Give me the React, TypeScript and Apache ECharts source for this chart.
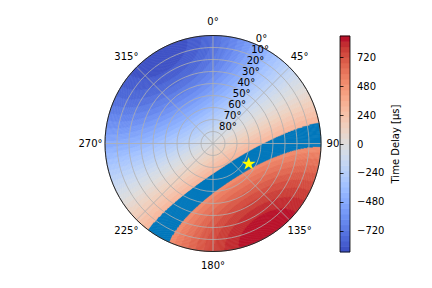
import React, { useEffect, useRef } from "react";
import * as echarts from "echarts";

// ---- data ----
const ANGLE_TICKS = [0, 45, 90, 135, 180, 225, 270, 315];
const ELEVATION_TICKS = [0, 10, 20, 30, 40, 50, 60, 70, 80];
const COLORBAR_TICKS = [-720, -480, -240, 0, 240, 480, 720];
const DELAY_RANGE = [-895, 895]; // µs, colorbar extent
const LEVEL_COUNT = 40;
const BASELINE_AMPLITUDE = 895; // µs, horizon delay amplitude
const BASELINE_AZIMUTH = 148; // deg, direction of max delay
const MATCH_BAND = [321, 500]; // µs, highlighted delay band
const STAR_POSITION = [56, 119]; // [elevation, azimuth]

// ---- style ----
const FONT = "DejaVu Sans";
const AZ_STEP = 0.5;
const EL_STEP = 0.25;
const BAND_COLOR = "#0077bb";
const GRID_COLOR = "#b0b0b0";

const COOLWARM = [
  [0.2298, 0.2987, 0.7537], [0.2662, 0.3531, 0.8015], [0.3039, 0.4065, 0.845],
  [0.3428, 0.4588, 0.8837], [0.383, 0.5094, 0.9174], [0.4244, 0.5581, 0.9456],
  [0.4667, 0.6046, 0.9682], [0.5096, 0.6483, 0.9848], [0.553, 0.6889, 0.9954],
  [0.5963, 0.7261, 0.9998], [0.6392, 0.7596, 0.9982], [0.6813, 0.789, 0.9904],
  [0.7222, 0.814, 0.9766], [0.7615, 0.8343, 0.9569], [0.7987, 0.8498, 0.9317],
  [0.8335, 0.8602, 0.9011], [0.8654, 0.8654, 0.8654], [0.8978, 0.8489, 0.8209],
  [0.9241, 0.8274, 0.7745], [0.9445, 0.8009, 0.7267], [0.9589, 0.7698, 0.678],
  [0.9673, 0.7341, 0.6288], [0.97, 0.6943, 0.5794], [0.9668, 0.6504, 0.5303],
  [0.958, 0.6028, 0.4818], [0.9437, 0.5518, 0.4342], [0.9239, 0.4973, 0.388],
  [0.899, 0.4396, 0.3432], [0.8692, 0.3783, 0.3003], [0.8346, 0.3129, 0.2593],
  [0.7956, 0.2413, 0.2205], [0.7525, 0.1572, 0.1841], [0.7057, 0.0156, 0.1502],
];

function coolwarm(t: number): string {
  const x = Math.max(0, Math.min(1, t)) * (COOLWARM.length - 1);
  const i = Math.min(COOLWARM.length - 2, Math.floor(x));
  const f = x - i;
  const a = COOLWARM[i];
  const b = COOLWARM[i + 1];
  const c = [0, 1, 2].map((k) => Math.round((a[k] + (b[k] - a[k]) * f) * 255));
  return `rgb(${c[0]},${c[1]},${c[2]})`;
}

const LEVEL_STEP = (DELAY_RANGE[1] - DELAY_RANGE[0]) / LEVEL_COUNT;
const LEVEL_COLORS = Array.from({ length: LEVEL_COUNT }, (_, i) =>
  coolwarm((i + 0.5) / LEVEL_COUNT)
);

const rad = (d: number) => (d * Math.PI) / 180;
function delayAt(el: number, az: number): number {
  return BASELINE_AMPLITUDE * Math.cos(rad(el)) * Math.cos(rad(az - BASELINE_AZIMUTH));
}
function classAt(el: number, az: number): number {
  const t = delayAt(el, az);
  if (t >= MATCH_BAND[0] && t <= MATCH_BAND[1]) return -1;
  return Math.max(0, Math.min(LEVEL_COUNT - 1, Math.floor((t - DELAY_RANGE[0]) / LEVEL_STEP)));
}

const RAY_STARTS: number[][] = [];
for (let a = 0; a < 360; a += AZ_STEP) RAY_STARTS.push([0, a]);

function starPath(): string {
  const pts: string[] = [];
  for (let k = 0; k < 10; k++) {
    const r = k % 2 === 0 ? 100 : 38.2;
    const ang = rad(k * 36);
    pts.push(`${(100 + r * Math.sin(ang)).toFixed(2)} ${(100 - r * Math.cos(ang)).toFixed(2)}`);
  }
  return "path://M" + pts.join(" L") + " Z";
}

export default function App() {
  const ref = useRef<HTMLDivElement>(null);
  useEffect(() => {
    if (!ref.current) return;
    const chart = echarts.init(ref.current, undefined, { renderer: "svg" });

    const fieldItem = (params: any, api: any) => {
      const az0 = api.value(1);
      const azMid = az0 + AZ_STEP / 2;
      const c = api.coord([90, 0]);
      const pa = api.coord([0, az0]);
      const pb = api.coord([0, az0 + AZ_STEP]);
      let sa = Math.atan2(pa[1] - c[1], pa[0] - c[0]);
      let ea = Math.atan2(pb[1] - c[1], pb[0] - c[0]);
      if (ea < sa) ea += 2 * Math.PI;
      ea += 0.003;
      const rpx = (el: number) => {
        const p = api.coord([el, azMid]);
        return Math.hypot(p[0] - c[0], p[1] - c[1]);
      };
      const children: any[] = [];
      let runStart = 0;
      let cls = classAt(EL_STEP / 2, azMid);
      const push = (elA: number, elB: number, k: number) => {
        const col = k < 0 ? BAND_COLOR : LEVEL_COLORS[k];
        children.push({
          type: "sector",
          silent: true,
          shape: { cx: c[0], cy: c[1], r0: rpx(elB), r: rpx(elA), startAngle: sa, endAngle: ea, clockwise: true },
          style: { fill: col, stroke: col, lineWidth: 0.4 },
        });
      };
      for (let el = EL_STEP; el < 90; el += EL_STEP) {
        const k = classAt(el + EL_STEP / 2, azMid);
        if (k !== cls) {
          push(runStart, el, cls);
          runStart = el;
          cls = k;
        }
      }
      push(runStart, 90, cls);
      return { type: "group", children };
    };

    const angleLabelItem = (params: any, api: any) => {
      const az = api.value(1);
      const c = api.coord([90, 0]);
      const p = api.coord([0, az]);
      const f = 1.134;
      return {
        type: "text",
        silent: true,
        x: c[0] + (p[0] - c[0]) * f,
        y: c[1] + (p[1] - c[1]) * f,
        style: { text: `${az}°`, fill: "#000", fontSize: 10, fontFamily: FONT, align: "center", verticalAlign: "middle" },
      };
    };

    const radialLabelItem = (params: any, api: any) => {
      const el = api.value(0);
      const p = api.coord([el, 22.5]);
      return {
        type: "text",
        silent: true,
        x: p[0] + 1.5,
        y: p[1] - 0.5,
        style: { text: `${el}°`, fill: "#000", fontSize: 10, fontFamily: FONT, align: "left", verticalAlign: "bottom" },
      };
    };

    const colorbarItem = (params: any, api: any) => {
      const idx = api.value(1);
      const lo = DELAY_RANGE[0] + idx * LEVEL_STEP;
      const hi = lo + LEVEL_STEP;
      const p0 = api.coord([0, lo]);
      const p1 = api.coord([1, hi]);
      return {
        type: "rect",
        silent: true,
        shape: { x: p0[0], y: p1[1] - 0.3, width: p1[0] - p0[0], height: p0[1] - p1[1] + 0.6 },
        style: { fill: LEVEL_COLORS[idx] },
      };
    };

    const colorbarFrame = (params: any, api: any) => {
      const p0 = api.coord([0, DELAY_RANGE[0]]);
      const p1 = api.coord([1, DELAY_RANGE[1]]);
      return {
        type: "rect",
        silent: true,
        shape: { x: p0[0], y: p1[1], width: p1[0] - p0[0], height: p0[1] - p1[1] },
        style: { fill: "none", stroke: "#000", lineWidth: 0.8 },
      };
    };

    chart.setOption({
      animation: false,
      textStyle: { fontFamily: FONT },
      polar: { center: [213, 143.5], radius: 108 },
      angleAxis: {
        type: "value",
        min: 0,
        max: 360,
        interval: 45,
        startAngle: 90,
        clockwise: true,
        z: 4,
        axisLine: { lineStyle: { color: "#000", width: 0.8 } },
        axisTick: { show: false },
        axisLabel: { show: false },
        splitLine: { show: true, lineStyle: { color: GRID_COLOR, width: 0.8 } },
      },
      radiusAxis: {
        type: "value",
        min: 0,
        max: 90,
        interval: 10,
        inverse: true,
        z: 3,
        axisLine: { show: false },
        axisTick: { show: false },
        axisLabel: { show: false },
        splitLine: { show: true, lineStyle: { color: GRID_COLOR, width: 0.8 } },
      },
      grid: { left: 340, top: 36, width: 10, height: 216 },
      xAxis: { type: "value", min: 0, max: 1, show: false },
      yAxis: {
        type: "value",
        position: "right",
        min: DELAY_RANGE[0],
        max: DELAY_RANGE[1],
        z: 7,
        axisLine: { show: false },
        splitLine: { show: false },
        axisTick: { show: true, customValues: COLORBAR_TICKS, length: 3.5, lineStyle: { color: "#000", width: 0.8 } },
        axisLabel: {
          customValues: COLORBAR_TICKS,
          margin: 7,
          color: "#000",
          fontSize: 10,
          fontFamily: FONT,
          formatter: (v: number) => (v < 0 ? "\u2212" + Math.abs(v) : String(v)),
        },
        name: "Time Delay [μs]",
        nameLocation: "middle",
        nameRotate: 90,
        nameGap: 40,
        nameTextStyle: { color: "#000", fontSize: 10, fontFamily: FONT },
      },
      series: [
        { type: "custom", coordinateSystem: "polar", z: 1, silent: true, data: RAY_STARTS, renderItem: fieldItem },
        {
          type: "scatter",
          coordinateSystem: "polar",
          z: 5,
          silent: true,
          data: [STAR_POSITION],
          symbol: starPath(),
          symbolKeepAspect: true,
          symbolSize: [14, 13.3],
          itemStyle: { color: "#ffff00", opacity: 1 },
        },
        { type: "custom", coordinateSystem: "polar", z: 5, silent: true, data: ANGLE_TICKS.map((a) => [0, a]), renderItem: angleLabelItem },
        { type: "custom", coordinateSystem: "polar", z: 5, silent: true, data: ELEVATION_TICKS.map((e) => [e, 22.5]), renderItem: radialLabelItem },
        {
          type: "custom",
          coordinateSystem: "cartesian2d",
          z: 6,
          silent: true,
          data: LEVEL_COLORS.map((_, i) => [0, i]),
          renderItem: colorbarItem,
        },
        { type: "custom", coordinateSystem: "cartesian2d", z: 8, silent: true, data: [[0, 0]], renderItem: colorbarFrame },
      ],
    });
    return () => chart.dispose();
  }, []);
  return <div ref={ref} style={{ position: "absolute", left: 0, top: 0, width: 432, height: 288, background: "#fff" }} />;
}
